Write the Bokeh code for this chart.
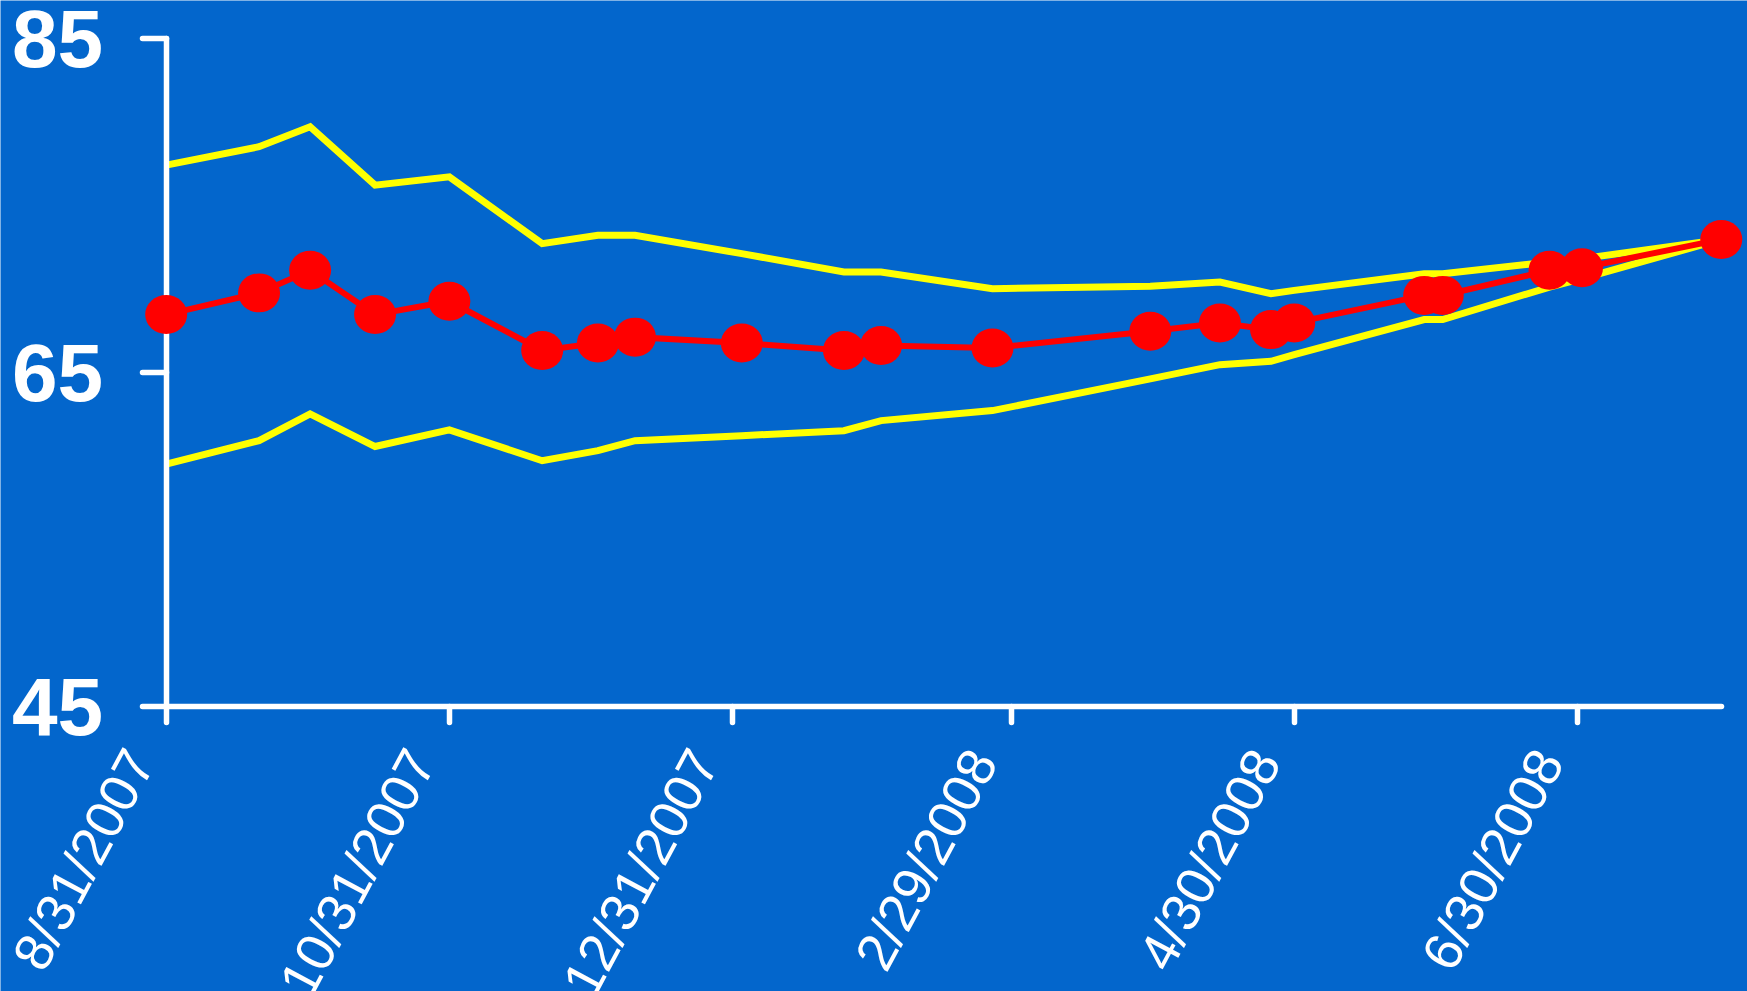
import math
import pandas as pd
from bokeh.plotting import figure
from bokeh.models import LinearAxis, FixedTicker, Range1d, ColumnDataSource
from bokeh.embed import file_html
from bokeh.resources import INLINE

# ---------------- data ----------------
dates = ["2007-08-31", "2007-09-20", "2007-10-01", "2007-10-15", "2007-10-31",
         "2007-11-20", "2007-12-02", "2007-12-10", "2008-01-02", "2008-01-24",
         "2008-02-01", "2008-02-25", "2008-03-30", "2008-04-14", "2008-04-25",
         "2008-04-30", "2008-05-28", "2008-06-01", "2008-06-24", "2008-07-01",
         "2008-07-31"]
middle = [68.45, 69.75, 71.1, 68.45, 69.25, 66.3, 66.75, 67.1, 66.75, 66.3,
          66.6, 66.45, 67.45, 67.95, 67.55, 67.95, 69.6, 69.6, 71.1, 71.25, 72.95]
upper = [77.4, 78.5, 79.7, 76.2, 76.7, 72.7, 73.2, 73.2, 72.1, 71.0,
         71.0, 70.0, 70.15, 70.4, 69.7, 69.9, 70.9, 70.9, 71.6, 71.8, 72.95]
lower = [59.5, 60.9, 62.5, 60.55, 61.55, 59.7, 60.3, 60.9, 61.2, 61.5,
         62.1, 62.7, 64.6, 65.45, 65.65, 66.05, 68.15, 68.15, 70.1, 70.6, 72.95]

x_tick_dates = ["2007-08-31", "2007-10-31", "2007-12-31", "2008-02-29",
                "2008-04-30", "2008-06-30"]
x_tick_labels = ["8/31/2007", "10/31/2007", "12/31/2007", "2/29/2008",
                 "4/30/2008", "6/30/2008"]
y_ticks = [45, 65, 85]
y_tick_labels = ["45", "65", "85"]


def to_ms(lst):
    return [float((pd.Timestamp(d) - pd.Timestamp("1970-01-01")) / pd.Timedelta(milliseconds=1))
            for d in lst]


date_ms = to_ms(dates)
tick_ms = to_ms(x_tick_dates)

# ---------------- layout (frame covers the whole canvas) ----------------
BG = "#0366CC"
W, H = 1747, 991
DAY = 86400000.0
PX_PER_DAY = 4.642
AXIS_X = 165.7          # screen x of the y axis (first date)
TOP_Y = 37.7            # screen y of the top tick
BOTTOM_Y = 705.7        # screen y of the x axis
x0 = tick_ms[0]
xs = x0 - AXIS_X / PX_PER_DAY * DAY
xe = xs + W / PX_PER_DAY * DAY
px_per_unit = (BOTTOM_Y - TOP_Y) / (y_ticks[-1] - y_ticks[0])
ys = y_ticks[0] - (H - BOTTOM_Y) / px_per_unit
ye = y_ticks[-1] + TOP_Y / px_per_unit
LABEL_SHIFT = 28.7 / PX_PER_DAY * DAY      # rotated labels end left of their tick
label_pos = [t - LABEL_SHIFT for t in tick_ms]

p = figure(x_axis_location=None, y_axis_location=None,
           x_range=Range1d(xs, xe), y_range=Range1d(ys, ye),
           frame_width=W, frame_height=H,
           min_border_left=0, min_border_right=0, min_border_top=0,
           min_border_bottom=0,
           background_fill_color=BG, border_fill_color=BG,
           outline_line_color=None,
           toolbar_location=None, output_backend="svg")
p.xgrid.grid_line_color = None
p.ygrid.grid_line_color = None


def style_rule(ax, tick_out):
    ax.axis_line_color = "white"
    ax.axis_line_width = 5.5
    ax.axis_line_cap = "round"
    ax.major_tick_line_color = "white"
    ax.major_tick_line_width = 5.5
    ax.major_tick_line_cap = "round"
    ax.major_tick_out = tick_out
    ax.major_tick_in = 0
    ax.minor_tick_line_color = None


# x axis line + ticks at the bottom value
xa = LinearAxis(fixed_location=y_ticks[0], ticker=FixedTicker(ticks=tick_ms),
                bounds=(date_ms[0], date_ms[-1]))
xa.major_label_overrides = {t: "" for t in tick_ms}
style_rule(xa, 16)
xa.major_label_text_color = None
xa.major_label_text_font_size = "0px"
p.add_layout(xa, "below")

# x tick labels
xl = LinearAxis(fixed_location=y_ticks[0], ticker=FixedTicker(ticks=label_pos))
xl.major_label_overrides = dict(zip(label_pos, x_tick_labels))
xl.axis_line_color = None
xl.major_tick_line_color = None
xl.minor_tick_line_color = None
xl.major_tick_out = 0
xl.major_tick_in = 0
xl.major_label_orientation = math.radians(62)
xl.major_label_text_font = "Liberation Sans"
xl.major_label_text_font_size = "54px"
xl.major_label_text_color = "white"
xl.major_label_standoff = 47
p.add_layout(xl, "below")

# y axis at the first date, with its labels
ya = LinearAxis(fixed_location=x0, ticker=FixedTicker(ticks=y_ticks),
                bounds=(y_ticks[0], y_ticks[-1]))
ya.major_label_overrides = dict(zip(y_ticks, y_tick_labels))
style_rule(ya, 24)
ya.major_label_text_font = "Liberation Sans"
ya.major_label_text_font_style = "bold"
ya.major_label_text_font_size = "82px"
ya.major_label_text_color = "white"
ya.major_label_standoff = 39
p.add_layout(ya, "left")

src = ColumnDataSource(dict(x=date_ms, mid=middle, up=upper, lo=lower))
p.line("x", "up", source=src, line_color="#FFFF00", line_width=7, line_join="miter")
p.line("x", "lo", source=src, line_color="#FFFF00", line_width=7, line_join="miter")
p.line("x", "mid", source=src, line_color="#FF0000", line_width=6, line_join="miter",
       level="overlay")
p.ellipse("x", "mid", source=src, width=42, height=39,
          width_units="screen", height_units="screen",
          fill_color="#FF0000", line_color=None, level="overlay")

open("out.html", "w").write(file_html(p, INLINE))
